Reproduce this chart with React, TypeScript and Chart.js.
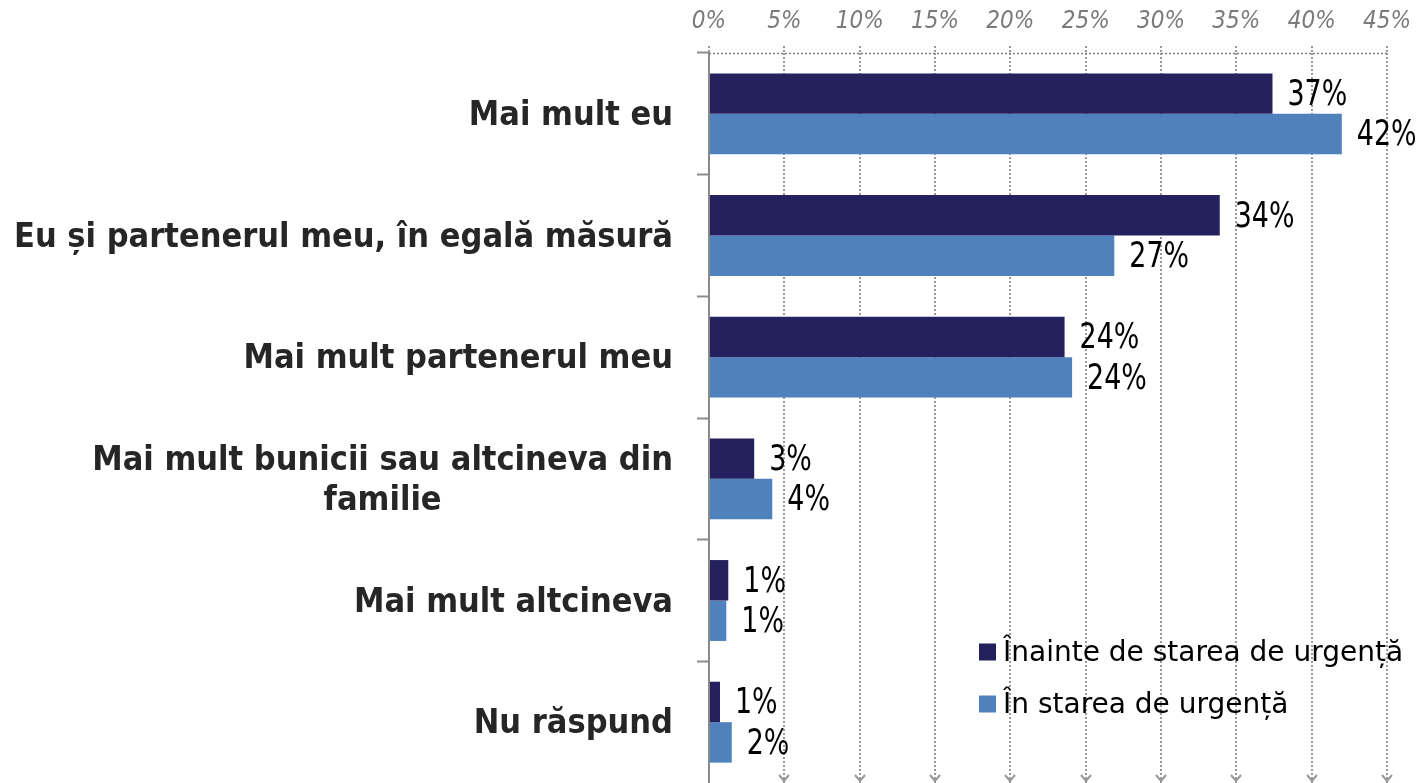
import React, { useEffect, useRef } from 'react';
import { Chart, registerables } from 'chart.js';

Chart.register(...registerables);

// ---- data ----
const categories: string[][] = [
  ['Mai mult eu'],
  ['Eu și partenerul meu, în egală măsură'],
  ['Mai mult partenerul meu'],
  ['Mai mult bunicii sau altcineva din', 'familie'],
  ['Mai mult altcineva'],
  ['Nu răspund'],
];
const seriesNames = ['Înainte de starea de urgență', 'În starea de urgență'];
const beforeValues = [37.4, 33.9, 23.6, 3.0, 1.28, 0.73];
const duringValues = [42.0, 26.9, 24.1, 4.2, 1.15, 1.51];
const xTickValues = [0, 5, 10, 15, 20, 25, 30, 35, 40, 45];
const seriesColors = ['#25215f', '#4f81bd'];

export default function App() {
  const ref = useRef<HTMLCanvasElement | null>(null);

  useEffect(() => {
    document.body.style.margin = '0';
    const canvas = ref.current;
    if (!canvas) return;
    const cond = '"DejaVu Sans Condensed", "DejaVu Sans"';
    const regular = '"DejaVu Sans"';

    const overlay = {
      id: 'overlay',
      afterDraw(chart: any) {
        const ctx = chart.ctx as CanvasRenderingContext2D;
        const area = chart.chartArea;
        const xs = chart.scales.x;
        const ys = chart.scales.y;

        // top dotted axis line
        ctx.save();
        ctx.strokeStyle = '#808080';
        ctx.lineWidth = 1.5;
        ctx.setLineDash([2, 2]);
        ctx.beginPath();
        ctx.moveTo(area.left, area.top + 0.5);
        ctx.lineTo(area.right, area.top + 0.5);
        ctx.stroke();
        ctx.restore();

        // chevrons at bottom of gridlines
        ctx.save();
        ctx.strokeStyle = '#999999';
        ctx.lineWidth = 2;
        xTickValues.forEach((v) => {
          if (v === 0) return;
          const x = Math.round(xs.getPixelForValue(v));
          const yb = area.bottom - 2;
          ctx.beginPath();
          ctx.moveTo(x - 5, yb - 6);
          ctx.lineTo(x, yb);
          ctx.lineTo(x + 5, yb - 6);
          ctx.stroke();
        });
        ctx.restore();

        // data labels (horizontally condensed)
        ctx.save();
        ctx.fillStyle = '#000000';
        ctx.font = `36px ${cond}`;
        ctx.textAlign = 'left';
        ctx.textBaseline = 'middle';
        chart.data.datasets.forEach((ds: any, di: number) => {
          const meta = chart.getDatasetMeta(di);
          meta.data.forEach((bar: any, i: number) => {
            const v = ds.data[i] as number;
            ctx.save();
            ctx.translate(bar.x + 15, bar.y + 2);
            ctx.scale(0.83, 1);
            ctx.fillText(Math.round(v) + '%', 0, 0);
            ctx.restore();
          });
        });
        ctx.restore();

        // category labels
        ctx.save();
        ctx.fillStyle = '#262626';
        ctx.font = `bold 34px ${cond}`;
        ctx.textBaseline = 'middle';
        ctx.textAlign = 'center';
        const rightX = area.left - 36;
        categories.forEach((lines, i) => {
          const yc = ys.getPixelForValue(i) + 2.5;
          const maxW = Math.max(...lines.map((l) => ctx.measureText(l).width));
          const cx = rightX - maxW / 2;
          const lh = 40;
          lines.forEach((l, j) => {
            ctx.fillText(l, cx, yc + (j - (lines.length - 1) / 2) * lh);
          });
        });
        ctx.restore();

        // legend
        ctx.save();
        const lx = area.left + 270;
        const rows = [area.top + 599, area.top + 651];
        ctx.font = `28px ${regular}`;
        ctx.textBaseline = 'middle';
        ctx.textAlign = 'left';
        seriesNames.forEach((name, k) => {
          ctx.fillStyle = seriesColors[k];
          ctx.fillRect(lx, rows[k] - 8.5, 17, 17);
          ctx.fillStyle = '#000000';
          ctx.fillText(name, lx + 24, rows[k] + 1.5);
        });
        ctx.restore();
      },
    };

    const chart = new Chart(canvas, {
      type: 'bar',
      data: {
        labels: categories.map((c) => c.join(' ')),
        datasets: [
          {
            label: seriesNames[0],
            data: beforeValues,
            backgroundColor: seriesColors[0],
            categoryPercentage: 0.665,
            barPercentage: 1,
          },
          {
            label: seriesNames[1],
            data: duringValues,
            backgroundColor: seriesColors[1],
            categoryPercentage: 0.665,
            barPercentage: 1,
          },
        ],
      },
      options: {
        indexAxis: 'y',
        responsive: false,
        maintainAspectRatio: false,
        animation: false,
        layout: { padding: { left: 0, right: 35, top: 0, bottom: 0 } },
        plugins: {
          legend: { display: false },
          tooltip: { enabled: false },
        },
        scales: {
          x: {
            position: 'top',
            min: 0,
            max: 45,
            afterBuildTicks: (s: any) => {
              s.ticks = xTickValues.map((v) => ({ value: v }));
            },
            afterFit: (s: any) => {
              s.height = 53;
            },
            ticks: {
              callback: (v: any) => v + '%',
              font: { family: cond, size: 24, style: 'italic' },
              color: '#7a7a7a',
              padding: 10,
              maxRotation: 0,
              autoSkip: false,
            },
            grid: {
              color: '#999999',
              lineWidth: 2,
              drawTicks: true,
              tickLength: 7,
              tickColor: '#999999',
              tickWidth: 2,
              tickBorderDash: [2, 2],
            },
            border: { display: false, dash: [2, 2] },
          },
          y: {
            afterFit: (s: any) => {
              s.width = 709;
            },
            ticks: { display: false },
            grid: {
              drawOnChartArea: false,
              offset: true,
              drawTicks: true,
              tickLength: 12,
              tickColor: (c: any) => (c && c.type === 'tick' ? '#8c8c8c' : 'rgba(0,0,0,0)'),
              tickWidth: 2,
            },
            border: { display: true, color: '#898989', width: 2 },
          },
        },
      },
      plugins: [overlay],
    } as any);

    return () => chart.destroy();
  }, []);

  return (
    <div style={{ width: 1422, height: 783 }}>
      <canvas ref={ref} width={1422} height={783} style={{ display: 'block' }} />
    </div>
  );
}
